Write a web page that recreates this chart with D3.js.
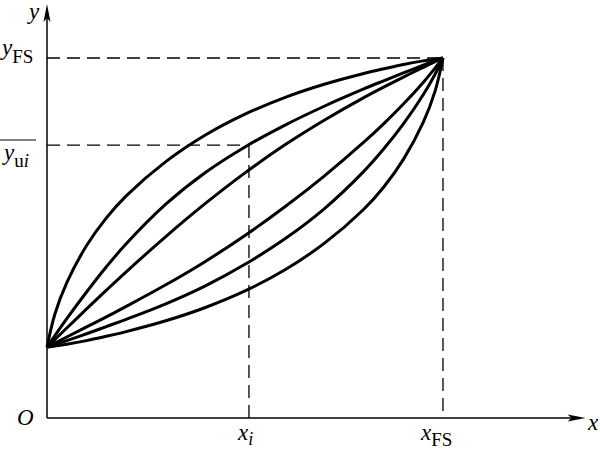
<!DOCTYPE html>
<html><head><meta charset="utf-8">
<script src="https://cdn.jsdelivr.net/npm/d3@7"></script>
<style>html,body{margin:0;padding:0;background:#fff;}svg{display:block;}</style>
</head><body>
<svg id="c" width="600" height="451"></svg>
<script>
// ---- data (x and y in percent of full scale; xFS = yFS = 100) ----
const xGrid  = [0, 2, 5, 10, 15, 20, 30, 40, 50, 60, 70, 80, 85, 90, 95, 98, 100];
const curve1 = [19.7, 28.9, 37.6, 47.9, 55.6, 61.7, 71.2, 78.6, 84.4, 89.0, 92.7, 95.7, 97.0, 98.2, 99.2, 99.7, 100];
const curve2 = [19.7, 22.9, 27.6, 35.0, 42.0, 48.4, 59.4, 68.2, 75.3, 81.3, 86.6, 91.4, 93.65, 95.85, 98.0, 99.26, 100];
const curve3 = [19.7, 21.8, 25.0, 30.3, 35.5, 40.6, 50.4, 59.6, 68.1, 75.8, 82.7, 89.0, 91.9, 94.7, 97.4, 99.0, 100];
const curve4 = [19.7, 20.8, 22.5, 25.3, 28.1, 31.0, 37.0, 43.5, 50.7, 58.6, 67.2, 76.6, 81.7, 87.2, 93.2, 97.2, 100];
const curve5 = [19.7, 20.4, 21.5, 23.4, 25.4, 27.4, 31.7, 36.7, 42.7, 49.7, 58.1, 68.5, 74.7, 81.7, 89.8, 95.5, 100];
const curve6 = [19.7, 20.0, 20.5, 21.5, 22.7, 24.0, 27.0, 30.7, 35.3, 41.1, 48.5, 58.0, 64.1, 71.85, 82.1, 90.8, 100];
const xFS = 100, yFS = 100, xi = 51, yui = 75.8;
const axisXMax = 136, axisYMax = 115;

const svg = d3.select("#c");
const x = d3.scaleLinear().domain([0, 100]).range([47, 443]);
const y = d3.scaleLinear().domain([0, 100]).range([418, 58]);

// dashed guide lines
const dash = "13,7";
function dl(x1, y1, x2, y2) {
  svg.append("line").attr("x1", x(x1)).attr("y1", y(y1)).attr("x2", x(x2)).attr("y2", y(y2))
    .attr("stroke", "#000").attr("stroke-width", 1.3).attr("stroke-dasharray", dash);
}
dl(0, yFS, xFS, yFS);
dl(xFS, yFS, xFS, 0);
dl(0, yui, xi, yui);
dl(xi, yui, xi, 0);

// axes
svg.append("line").attr("x1", x(0)).attr("y1", y(0)).attr("x2", x(axisXMax) - 8).attr("y2", y(0))
  .attr("stroke", "#000").attr("stroke-width", 1.5);
svg.append("line").attr("x1", x(0)).attr("y1", y(0)).attr("x2", x(0)).attr("y2", y(axisYMax) + 8)
  .attr("stroke", "#000").attr("stroke-width", 1.5);
// arrowheads
const tx = x(axisXMax), ty = y(0);
svg.append("path").attr("d", `M${tx},${ty} L${tx-18},${ty-3.5} L${tx-14},${ty} L${tx-18},${ty+3.5} Z`).attr("fill", "#000");
const ax = x(0), ay = y(axisYMax);
svg.append("path").attr("d", `M${ax},${ay} L${ax-3.5},${ay+18} L${ax},${ay+14} L${ax+3.5},${ay+18} Z`).attr("fill", "#000");

// curves
const line = d3.line().x(d => x(d[0])).y(d => y(d[1])).curve(d3.curveCatmullRom.alpha(0.5));
[curve1, curve2, curve3, curve4, curve5, curve6].forEach(c => {
  svg.append("path").attr("d", line(xGrid.map((v, i) => [v, c[i]])))
    .attr("fill", "none").attr("stroke", "#000").attr("stroke-width", 3).attr("stroke-linejoin", "round");
});

// labels
const serif = "'Liberation Serif','Times New Roman',serif";
function t(px, py, parts, anchor) {
  const el = svg.append("text").attr("x", px).attr("y", py).attr("font-family", serif)
    .attr("text-anchor", anchor || "start").attr("fill", "#000");
  parts.forEach(p => {
    const s = el.append("tspan").text(p.t).attr("font-size", p.s || 23);
    if (p.i) s.attr("font-style", "italic");
    if (p.dy) s.attr("dy", p.dy);
  });
  return el;
}
t(29, 19, [{t: "y", i: true}]);
t(2, 55, [{t: "y", i: true}, {t: "FS", s: 19, dy: 8}]);
t(4, 160, [{t: "y", i: true}, {t: "u", s: 19, dy: 7}, {t: "i", s: 19, i: true}]);
svg.append("line").attr("x1", 0).attr("x2", 36).attr("y1", 140).attr("y2", 140).attr("stroke", "#000").attr("stroke-width", 1.2);
t(17, 425, [{t: "O", i: true}]);
t(x(xi) - 11, 440, [{t: "x", i: true}, {t: "i", s: 18, i: true, dy: 5}]);
t(x(xFS) - 22, 440, [{t: "x", i: true}, {t: "FS", s: 19, dy: 6}]);
t(588, 430, [{t: "x", i: true}]);
</script>
</body></html>
